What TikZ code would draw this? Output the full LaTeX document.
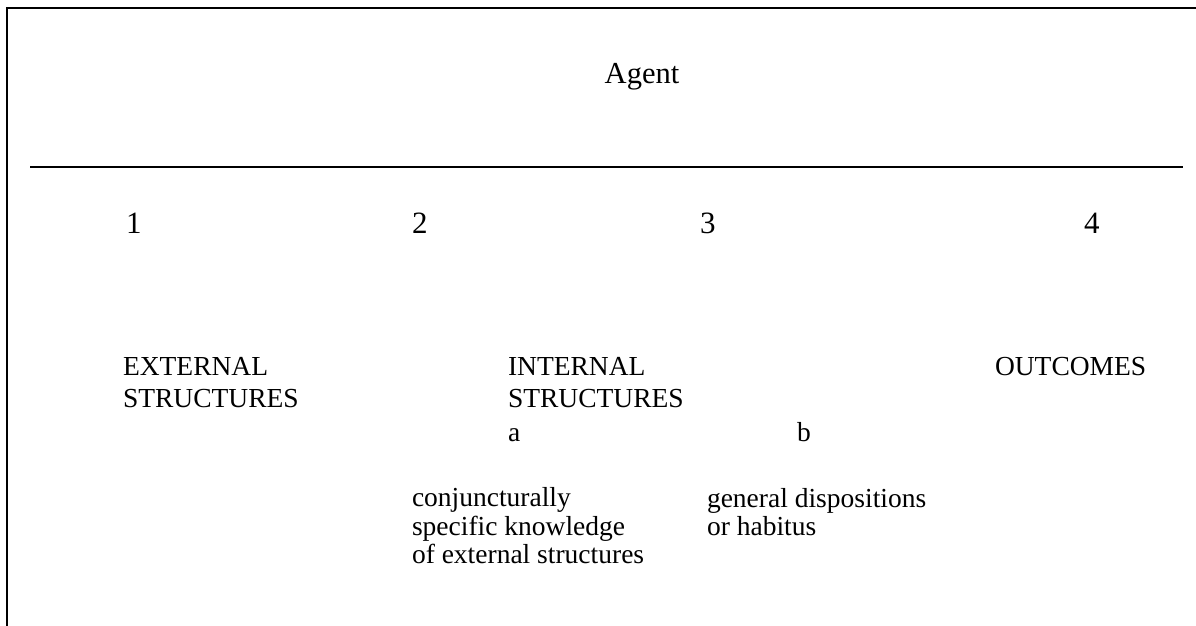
\documentclass[tikz,border=0pt]{standalone}
\usepackage{fontspec}
\setmainfont{Liberation Serif}
\begin{document}
\begin{tikzpicture}[x=1pt,y=-1pt,
  txt/.style={anchor=base west,inner sep=0pt,outer sep=0pt,font=\fontsize{27.5}{32}\selectfont},
  num/.style={anchor=base west,inner sep=0pt,outer sep=0pt,font=\fontsize{31}{36}\selectfont},
  rule/.style={line width=2pt,black}]
\useasboundingbox (0,0) rectangle (1196,626);
% frame lines
\coordinate (tl) at (7,8);
\coordinate (tr) at (1196,8);
\coordinate (bl) at (7,626);
\coordinate (ml) at (30,167);
\coordinate (mr) at (1183,167);
\draw[rule] (tr) -- (tl) -- (bl);
\draw[rule] (ml) -- (mr);
% title
\node[anchor=base,inner sep=0pt,font=\fontsize{30.5}{36}\selectfont] (agent) at (642,84) {Agent};
% numbers
\node[num] (n1) at (126,233) {1};
\node[num] (n2) at (412,233) {2};
\node[num] (n3) at (700,233) {3};
\node[num] (n4) at (1084,233) {4};
% column labels
\node[txt] (ext1) at (123,375) {EXTERNAL};
\node[txt] (ext2) at (123,407) {STRUCTURES};
\node[txt] (int1) at (508,375) {INTERNAL};
\node[txt] (int2) at (508,407) {STRUCTURES};
\node[txt] (la) at (508,441) {a};
\node[txt] (lb) at (797,441) {b};
\node[txt] (out) at (995,375) {OUTCOMES};
\node[txt] (c1) at (412,506) {conjuncturally};
\node[txt] (c2) at (412,535) {specific knowledge};
\node[txt] (c3) at (412,563) {of external structures};
\node[txt] (g1) at (707,507) {general dispositions};
\node[txt] (g2) at (707,535) {or habitus};
\end{tikzpicture}
\end{document}
